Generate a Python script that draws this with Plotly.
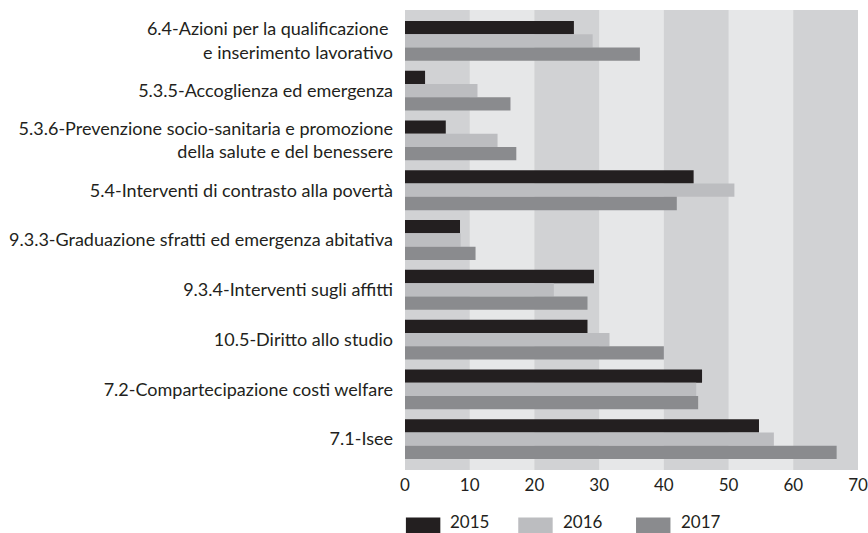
import plotly.graph_objects as go

categories = [
    "6.4-Azioni per la qualificazione <br>e inserimento lavorativo",
    "5.3.5-Accoglienza ed emergenza",
    "5.3.6-Prevenzione socio-sanitaria e promozione<br>della salute e del benessere",
    "5.4-Interventi di contrasto alla povertà",
    "9.3.3-Graduazione sfratti ed emergenza abitativa",
    "9.3.4-Interventi sugli affitti",
    "10.5-Diritto allo studio",
    "7.2-Compartecipazione costi welfare",
    "7.1-Isee",
]
years = ["2015", "2016", "2017"]
v2015 = [26.1, 3.1, 6.3, 44.6, 8.5, 29.2, 28.2, 45.9, 54.7]
v2016 = [29.0, 11.2, 14.3, 50.9, 8.6, 23.0, 31.6, 45.0, 57.0]
v2017 = [36.3, 16.3, 17.2, 42.0, 10.9, 28.2, 40.0, 45.3, 66.7]
colors = ["#231f20", "#bcbdc0", "#8a8b8e"]
xticks = [0, 10, 20, 30, 40, 50, 60, 70]

fig = go.Figure()
for name, vals, col in zip(years, [v2015, v2016, v2017], colors):
    fig.add_trace(go.Bar(y=categories, x=vals, name=name, orientation="h",
                         marker=dict(color=col, line=dict(width=0)), showlegend=False))

# alternating background bands
for i in range(0, len(xticks) - 1, 2):
    fig.add_shape(type="rect", xref="x", yref="paper", x0=xticks[i], x1=xticks[i + 1],
                  y0=0, y1=1, fillcolor="#d1d2d4", line_width=0, layer="below")

# legend drawn as wide swatches
leg_x = [0.002, 0.250, 0.510]
for x0, name, col in zip(leg_x, years, colors):
    fig.add_shape(type="rect", xref="paper", yref="paper", x0=x0, x1=x0 + 0.076,
                  y0=-0.137, y1=-0.103, fillcolor=col, line_width=0)
    fig.add_annotation(x=x0 + 0.094, y=-0.112, xref="paper", yref="paper", text=name,
                       showarrow=False, xanchor="left", yanchor="middle",
                       font=dict(size=17, color="#231f20"))

fig.update_layout(
    width=868, height=533,
    margin=dict(l=405, r=10, t=10, b=63),
    paper_bgcolor="white", plot_bgcolor="#e6e7e8",
    barmode="group", bargap=0.2, bargroupgap=0,
    font=dict(family="Lato", size=18, color="#231f20"),
)
fig.update_xaxes(range=[0, 70], tickvals=xticks, showgrid=False, zeroline=False,
                 ticks="", ticklabelstandoff=3, ticklabeloverflow="allow",
                 automargin=False, tickfont=dict(size=17))
fig.update_yaxes(categoryorder="array", categoryarray=categories, range=[8.62, -0.62],
                 showgrid=False, ticks="", ticklabelstandoff=11, automargin=False,
                 tickfont=dict(size=18))

# drop the default 8px page margin so the figure fills the window
fig.write_html("out.html", config={"displayModeBar": False},
               post_script="document.body.style.margin='0';")
